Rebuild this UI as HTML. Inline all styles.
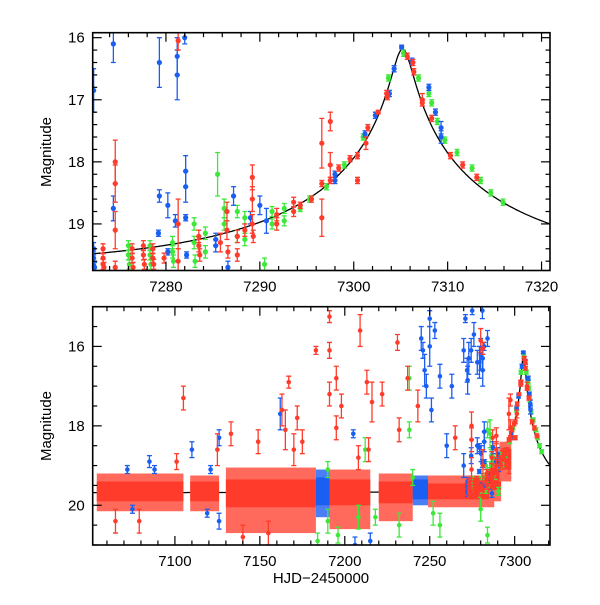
<!DOCTYPE html>
<html><head><meta charset="utf-8"><style>
html,body{margin:0;padding:0;background:#fff;}
svg text{font-family:"Liberation Sans",sans-serif;fill:#000;}
</style></head><body>
<svg id="chart" width="600" height="600" viewBox="0 0 600 600" xmlns="http://www.w3.org/2000/svg">
<g id="topPanel"></g>
<g id="botPanel"></g>
</svg>
<script>
// ---- data (HJD-2450000, magnitude, error) ----
const redT=[7273.3,7273.3,7273.3,7273.4,7274.6,7274.6,7274.6,7274.6,7276.4,7276.4,7276.5,7277.6,7277.6,7277.7,7278.6,7278.6,7278.7,7279.8,7281.3,7281.3,7281.3,7283.5,7283.5,7283.6,7285.8,7286.5,7286.5,7286.6,7287.6,7287.6,7288.4,7289.2,7289.2,7289.2,7289.3,7291.8,7291.8,7293.6,7293.6,7294.3,7295.5,7296.6,7296.6,7296.6,7297.5,7297.5,7297.5,7298.4,7299.6,7300.4,7300.4,7301.3,7301.5,7302.6,7303.5,7303.6,7305.7,7306.3,7306.4,7307.3,7307.3,7308.3,7310.3,7311.6,7313.1];
const redM=[19.4,19.55,19.65,19.7,18.0,18.35,19.1,19.7,19.4,19.55,19.7,19.35,19.5,19.65,19.4,19.55,19.65,19.55,16.05,19.0,19.6,19.2,19.35,19.5,19.3,18.8,19.1,19.45,19.2,19.5,19.1,18.25,18.6,19.0,19.2,18.85,19.0,18.65,18.8,18.7,18.6,17.7,18.35,18.9,17.35,18.05,18.3,18.1,17.95,17.9,18.3,17.7,17.45,17.2,16.9,16.95,16.3,16.4,16.55,17.0,17.05,17.3,17.9,18.05,18.25];
const redE=[0.08,0.08,0.08,0.08,0.35,0.3,0.3,0.1,0.08,0.08,0.08,0.08,0.08,0.08,0.08,0.08,0.08,0.08,0.15,0.4,0.2,0.1,0.1,0.1,0.15,0.15,0.15,0.1,0.1,0.1,0.1,0.2,0.2,0.15,0.1,0.1,0.1,0.08,0.08,0.05,0.05,0.4,0.05,0.3,0.15,0.2,0.05,0.05,0.05,0.05,0.05,0.1,0.05,0.03,0.05,0.05,0.05,0.05,0.05,0.1,0.05,0.05,0.05,0.05,0.05];
const greenT=[7276,7276,7276.1,7278.3,7278.3,7278.4,7280.7,7280.7,7280.8,7283,7283,7283.1,7284.2,7284.2,7285.5,7286.2,7286.2,7287.6,7287.6,7288.4,7288.4,7290.5,7291.3,7291.3,7292.6,7292.6,7294.3,7295.3,7297.1,7299,7301,7303.7,7305.3,7306.9,7308,7308.3,7308.9,7309.7,7311,7312.6,7313.5,7314.6,7315.9];
const greenM=[19.35,19.5,19.65,19.35,19.5,19.65,19.3,19.45,19.6,19.0,19.3,19.6,19.15,19.45,18.2,18.75,19.0,18.8,19.2,18.9,19.25,19.65,18.8,19.0,18.75,18.95,18.75,18.6,18.4,18.05,17.6,16.65,16.25,16.65,16.9,17.05,17.35,17.65,17.85,18.1,18.3,18.5,18.65];
const greenE=[0.08,0.08,0.08,0.08,0.08,0.08,0.1,0.1,0.1,0.1,0.1,0.1,0.1,0.1,0.35,0.15,0.1,0.1,0.1,0.1,0.1,0.1,0.08,0.08,0.08,0.08,0.05,0.05,0.05,0.05,0.05,0.05,0.05,0.05,0.05,0.05,0.05,0.05,0.05,0.05,0.05,0.05,0.05];
const blueT=[7272.3,7272.3,7272.3,7272.4,7274.4,7274.4,7279.3,7279.3,7279.2,7280.2,7280.2,7281.2,7281.2,7281,7282,7282.1,7282.1,7282.1,7282.2,7285.3,7285.3,7286.6,7287.2,7289,7290,7290.7,7298,7298,7301.2,7302.3,7303.8,7304.3,7305.1,7306.2,7308,7308.7,7309.3,7309.3];
const blueM=[16.85,19.4,19.55,19.7,16.1,18.75,16.4,18.55,19.15,18.7,19.45,16.3,16.6,18.95,16.0,18.15,18.4,18.9,19.5,19.25,19.35,19.7,18.55,18.9,18.7,18.95,18.2,18.3,17.55,17.25,16.9,16.5,16.15,16.38,16.8,17.2,17.45,17.6];
const blueE=[0.35,0.1,0.1,0.08,0.3,0.2,0.4,0.1,0.05,0.2,0.05,0.3,0.4,0.1,0.1,0.25,0.25,0.05,0.05,0.1,0.1,0.1,0.15,0.1,0.15,0.2,0.05,0.05,0.05,0.05,0.05,0.05,0.03,0.05,0.05,0.05,0.1,0.1];
// bottom panel extra outliers
const redOutT=[7065,7079,7105,7101,7125,7133,7149,7163,7165,7167,7172,7175,7183,7191,7191,7191,7195,7195,7198,7209,7213,7216,7222,7231,7237,7243,7280,7265,7287,7232,7170,7140,7155,7208,7214];
const redOutM=[20.4,20.4,17.3,18.9,18.6,18.2,18.4,17.6,18.1,16.9,17.8,18.4,16.1,15.25,16.1,17.2,16.8,18.05,17.5,15.6,16.9,17.4,17.2,15.9,16.8,17.5,15.85,18.3,18.3,18.1,18.6,20.8,20.7,18.8,18.6];
const redOutE=[0.3,0.3,0.3,0.2,0.4,0.3,0.3,0.4,0.5,0.15,0.3,0.3,0.1,0.15,0.2,0.3,0.3,0.3,0.3,0.4,0.3,0.5,0.3,0.2,0.3,0.4,0.3,0.3,0.2,0.3,0.4,0.3,0.3,0.3,0.3];
const blueOutT=[7072,7085,7088,7110,7121,7126,7126,7075,7119,7162,7205,7245,7246,7247,7248,7250,7250,7251,7253,7256,7263,7270,7271,7272,7273,7275,7276,7278,7280,7281,7284,7260,7270,7278,7215,7206];
const blueOutM=[19.1,18.9,19.1,18.6,19.1,18.3,20.4,20.1,20.2,17.7,18.2,15.8,16.1,16.6,17.0,15.3,16.0,17.6,15.6,16.75,17.0,16.1,15.3,16.6,16.3,15.1,15.7,16.4,16.2,15.1,15.8,18.5,19.0,18.5,20.9,21.0];
const blueOutE=[0.1,0.15,0.1,0.2,0.1,0.2,0.2,0.1,0.1,0.4,0.1,0.3,0.2,0.4,0.3,0.2,0.5,0.3,0.2,0.3,0.3,0.3,0.1,0.3,0.4,0.1,0.3,0.3,0.4,0.2,0.2,0.3,0.3,0.2,0.2,0.2];
const greenOutT=[7184,7190,7196,7208,7212,7218,7232,7238,7238,7240,7252,7256,7284,7280,7287,7284,7190];
const greenOutM=[20.9,20.4,20.75,20.3,18.6,20.3,20.5,18.1,16.8,19.3,20.2,20.5,20.75,20.1,18.8,18.1,19.1];
const greenOutE=[0.2,0.3,0.2,0.3,0.3,0.2,0.3,0.2,0.3,0.2,0.3,0.3,0.2,0.3,0.2,0.2,0.2];
// dense clusters in bottom panel: start, end, error-bar envelope (faint/bright), core (faint/bright)
const bandStart=[7054,7109,7130,7191,7220,7249,7183,7240,7285,7291];
const bandEnd=[7105,7126,7183,7215,7240,7288,7191,7249,7292,7298];
const bandLo=[20.15,20.15,20.7,20.6,20.4,20.05,20.3,20.0,19.9,19.4];
const bandHi=[19.2,19.25,19.05,19.1,19.2,19.25,19.1,19.25,18.9,18.4];
const coreLo=[19.9,19.9,20.05,20.0,19.95,19.85,20.0,19.85,19.6,19.1];
const coreHi=[19.4,19.4,19.35,19.35,19.4,19.45,19.3,19.35,19.1,18.6];
const bandColor=["red","red","red","red","red","red","blue","blue","red","red"];
// model
const modelT0=7305.2, modelTE=26, modelU0=0.04, modelBase=19.68;
const topXTicks=[7280,7290,7300,7310,7320];
const topYTicks=[16,17,18,19];
const botXTicks=[7100,7150,7200,7250,7300];
const botYTicks=[16,18,20];

const COLORS={red:"#ff3b2b",green:"#3ee83a",blue:"#1a5ef2"};
const LIGHT={red:"#ff6a5c",blue:"#4a7ef5"};
const NS="http://www.w3.org/2000/svg";
function mk(tag,attrs,parent){const e=document.createElementNS(NS,tag);for(const k in attrs)e.setAttribute(k,attrs[k]);parent.appendChild(e);return e;}

function panel(g,L,R,T,B,x0,x1,y0,y1,name){
  const sx=t=>L+(t-x0)/(x1-x0)*(R-L);
  const sy=m=>T+(m-y0)/(y1-y0)*(B-T);
  const clip=mk("clipPath",{id:"clip-"+name},g);
  mk("rect",{x:L,y:T,width:R-L,height:B-T},clip);
  const data=mk("g",{"clip-path":"url(#clip-"+name+")"},g);
  
  
  let d="";
  for(let t=x0;t<=x1;t+=(x1-x0)/400){
    const u=Math.sqrt(modelU0*modelU0+Math.pow((t-modelT0)/modelTE,2));
    const A=(u*u+2)/(u*Math.sqrt(u*u+4));
    const m=modelBase-2.5*Math.log10(A);
    d+=(d?"L":"M")+sx(t).toFixed(1)+","+sy(m).toFixed(1);
  }
  const curve=mk("path",{d:d,fill:"none",stroke:"#000","stroke-width":1.3},data);
  
  
  return {sx:sx,sy:sy,data:data};
}
function axes(g,L,R,T,B,sx,sy,x0,x1,y0,y1,xt,xMinor,yt,yMinor,name,labelY){
  const fr=mk("rect",{x:L,y:T,width:R-L,height:B-T,fill:"none",stroke:"#000","stroke-width":1.6},g);
  
  
  for(let v=Math.ceil(x0/xMinor)*xMinor;v<=x1;v+=xMinor){
    const major=Math.abs(v/(xMinor*5)-Math.round(v/(xMinor*5)))<1e-6;
    const len=major?9:4.5,x=sx(v);
    mk("line",{x1:x,x2:x,y1:B,y2:B-len,stroke:"#000","stroke-width":1.2},g);
    mk("line",{x1:x,x2:x,y1:T,y2:T+len,stroke:"#000","stroke-width":1.2},g);
  }
  for(let v=Math.ceil(y0/yMinor)*yMinor;v<=y1+1e-9;v+=yMinor){
    const major=yt.some(q=>Math.abs(q-v)<1e-6);
    const len=major?9:4.5,y=sy(v);
    mk("line",{x1:L,x2:L+len,y1:y,y2:y,stroke:"#000","stroke-width":1.2},g);
    mk("line",{x1:R,x2:R-len,y1:y,y2:y,stroke:"#000","stroke-width":1.2},g);
  }
  xt.forEach(v=>{const t=mk("text",{x:sx(v),y:B+21,"text-anchor":"middle","font-size":15},g);t.textContent=v;
    
    });
  yt.forEach(v=>{const t=mk("text",{x:L-8,y:sy(v)+5,"text-anchor":"end","font-size":15},g);t.textContent=v;
    
    });
  const yl=mk("text",{x:0,y:0,"text-anchor":"middle","font-size":15,transform:"translate(51,"+labelY+") rotate(-90)"},g);
  yl.textContent="Magnitude";
  
  
}
function points(p,T,M,E,color,name,rad){
  const c=COLORS[color];
  for(let i=0;i<T.length;i++){
    const x=p.sx(T[i]),y=p.sy(M[i]),y1=p.sy(M[i]-E[i]),y2=p.sy(M[i]+E[i]);
    const g=mk("g",{},p.data);
    
    
    mk("line",{x1:x,x2:x,y1:y1,y2:y2,stroke:c,"stroke-width":1.3},g);
    mk("line",{x1:x-2.5,x2:x+2.5,y1:y1,y2:y1,stroke:c,"stroke-width":1.3},g);
    mk("line",{x1:x-2.5,x2:x+2.5,y1:y2,y2:y2,stroke:c,"stroke-width":1.3},g);
    mk("circle",{cx:x,cy:y,r:rad,fill:c},g);
  }
}

// top panel
const topG=document.getElementById("topPanel");
const tL=92.7,tR=550,tT=32.7,tB=270.5,tx0=7272.2,tx1=7320.9,ty0=15.92,ty1=19.75;
const pt=panel(topG,tL,tR,tT,tB,tx0,tx1,ty0,ty1,"top");
points(pt,greenT,greenM,greenE,"green","green-point",2.6);
points(pt,blueT,blueM,blueE,"blue","blue-point",2.6);
points(pt,redT,redM,redE,"red","red-point",2.6);
axes(topG,tL,tR,tT,tB,pt.sx,pt.sy,tx0,tx1,ty0,ty1,topXTicks,2,topYTicks,0.2,"top",152);

// bottom panel
const botG=document.getElementById("botPanel");
const bL=92.7,bR=550,bT=306.7,bB=545,bx0=7051.6,bx1=7320.8,by0=15.0,by1=21.0;
const pb=panel(botG,bL,bR,bT,bB,bx0,bx1,by0,by1,"bottom");
for(let i=0;i<bandStart.length;i++){
  const x=pb.sx(bandStart[i]),w=pb.sx(bandEnd[i])-pb.sx(bandStart[i]);
  const r=mk("rect",{x:x,y:pb.sy(bandHi[i]),width:w,height:pb.sy(bandLo[i])-pb.sy(bandHi[i]),fill:LIGHT[bandColor[i]]},pb.data);
  
  
  const c=mk("rect",{x:x,y:pb.sy(coreHi[i]),width:w,height:pb.sy(coreLo[i])-pb.sy(coreHi[i]),fill:COLORS[bandColor[i]]},pb.data);
  
  
}
points(pb,greenOutT,greenOutM,greenOutE,"green","green-outlier",2.3);
points(pb,blueOutT,blueOutM,blueOutE,"blue","blue-outlier",2.3);
points(pb,redOutT,redOutM,redOutE,"red","red-outlier",2.3);
points(pb,greenT,greenM,greenE,"green","green-point",2.3);
points(pb,blueT,blueM,blueE,"blue","blue-point",2.3);
points(pb,redT,redM,redE,"red","red-point",2.3);
axes(botG,bL,bR,bT,bB,pb.sx,pb.sy,bx0,bx1,by0,by1,botXTicks,10,botYTicks,0.5,"bottom",426);
const xl=mk("text",{x:321,y:583,"text-anchor":"middle","font-size":15,"font-family":"Liberation Mono, monospace"},botG);
xl.textContent="HJD\u22122450000";


</script>
</body></html>
